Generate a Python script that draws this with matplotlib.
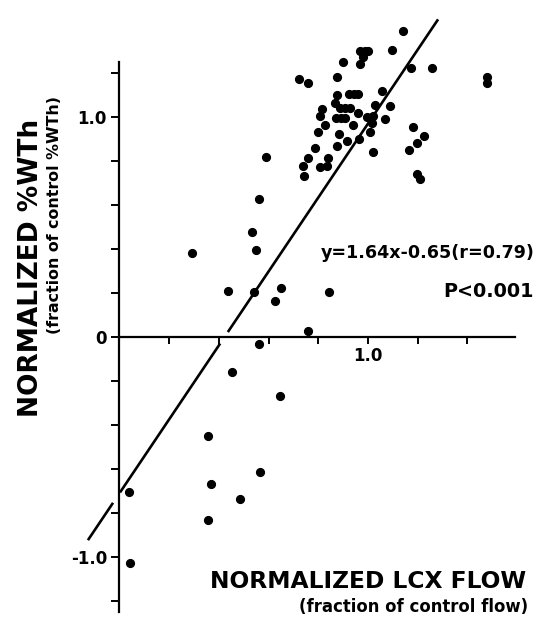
import numpy as np
import matplotlib
matplotlib.use("Agg")
import matplotlib.pyplot as plt
from matplotlib.ticker import FuncFormatter

plt.rcParams['font.family'] = ['DejaVu Sans']

# ---- data (normalized LCX flow, normalized %WTh) ----
flow = [1.142, 0.968, 0.988, 1.000, 0.979, 0.968, 0.898, 1.097, 1.173, 1.259,
        1.478, 1.478, 0.724, 0.759, 0.876, 0.876, 0.925, 0.944, 0.961, 1.058,
        0.867, 0.887, 0.907, 0.928, 0.959, 1.029, 1.089, 0.815, 0.808, 0.871,
        0.890, 0.907, 0.996, 1.020, 1.016, 1.070, 0.828, 0.938, 0.798, 0.885,
        1.008, 1.181, 1.227, 0.965, 0.915, 0.876, 0.786, 1.198, 1.165, 1.019,
        0.757, 0.740, 0.838, 0.807, 0.834, 0.744, 1.196, 1.209,
        0.590, 0.561, 0.533, 0.549, 0.292, 0.437, 0.541, 0.650, 0.626, 0.843,
        0.759, 0.561, 0.453, 0.646, 0.356, 0.368, 0.356, 0.485, 0.565, 0.038,
        0.042]
wth = [1.392, 1.301, 1.301, 1.301, 1.271, 1.240, 1.251, 1.303, 1.221, 1.224,
       1.180, 1.153, 1.174, 1.156, 1.183, 1.100, 1.105, 1.105, 1.105, 1.118,
       1.062, 1.040, 1.040, 1.040, 1.020, 1.055, 1.050, 1.035, 1.005, 0.994,
       0.994, 0.994, 1.000, 1.005, 0.973, 0.992, 0.964, 0.964, 0.932, 0.924,
       0.933, 0.953, 0.914, 0.901, 0.892, 0.868, 0.859, 0.880, 0.849, 0.841,
       0.815, 0.779, 0.815, 0.773, 0.777, 0.733, 0.741, 0.717,
       0.818, 0.627, 0.477, 0.395, 0.382, 0.209, 0.205, 0.223, 0.164, 0.205,
       0.027, -0.032, -0.159, -0.268, -0.450, -0.668, -0.832, -0.736, -0.614, -0.705,
       -1.027]

# regression line as drawn (with breaks where it crosses the axes)
line_slope = 1.68
line_intercept = -0.71
line_segments = [(-0.127, -0.026), (0.002, 0.405), (0.436, 1.282)]

equation_text = "y=1.64x-0.65(r=0.79)"
p_text = "P<0.001"
xlabel = "NORMALIZED LCX FLOW"
xlabel2 = "(fraction of control flow)"
ylabel = "NORMALIZED %WTh"
ylabel2 = "(fraction of control %WTh)"

y_ticks = np.round(np.arange(-1.2, 1.21, 0.2), 2)
x_ticks = np.round(np.arange(0.2, 1.41, 0.2), 2)
y_labeled = {1.0: "1.0", 0.0: "0", -1.0: "-1.0"}
x_labeled = {1.0: "1.0"}

# ---- figure ----
W, H = 545, 619
fig = plt.figure(figsize=(W / 100, H / 100), dpi=100)
ax = fig.add_axes([0, 0, 1, 1])
ax.set_facecolor("white")

x0_px, xs = 119.5, 248.5
y0_px, ys = 337.0, 220.0
ax.set_xlim(-x0_px / xs, (W - x0_px) / xs)
ax.set_ylim((y0_px - H) / ys, y0_px / ys)

for s in ["top", "right"]:
    ax.spines[s].set_visible(False)
ax.spines["left"].set_position(("data", 0))
ax.spines["bottom"].set_position(("data", 0))
ax.spines["left"].set_bounds(-1.25, 1.25)
ax.spines["bottom"].set_bounds(0, 1.59)
for s in ["left", "bottom"]:
    ax.spines[s].set_linewidth(1.6)

ax.set_yticks(y_ticks)
ax.set_xticks(x_ticks)
ax.yaxis.set_major_formatter(FuncFormatter(lambda v, p: y_labeled.get(round(v, 2), "")))
ax.xaxis.set_major_formatter(FuncFormatter(lambda v, p: x_labeled.get(round(v, 2), "")))
ax.tick_params(axis="y", direction="out", length=6, width=1.4, pad=3,
               labelsize=12)
ax.tick_params(axis="x", direction="out", length=5, width=1.4, pad=2,
               labelsize=12)
for lab in ax.get_xticklabels() + ax.get_yticklabels():
    lab.set_fontweight("bold")

ax.plot(flow, wth, "o", color="black", markersize=5.6, zorder=3)

for a, b in line_segments:
    xx = np.array([a, b])
    ax.plot(xx, line_slope * xx + line_intercept, color="black", lw=1.9,
            solid_capstyle="butt", zorder=2)

ax.text(0.81, 0.382, equation_text, fontsize=12.6, fontweight="bold",
        ha="left", va="center")
ax.text(1.665, 0.205, p_text, fontsize=13.8, fontweight="bold",
        ha="right", va="center")

fig.text(210 / W, 1 - 582 / H, xlabel, fontsize=16.8, fontweight="bold",
         ha="left", va="center")
fig.text(528 / W, 1 - 607 / H, xlabel2, fontsize=11.9, fontweight="bold",
         ha="right", va="center")
fig.text(31 / W, 1 - 268 / H, ylabel, fontsize=19, fontweight="bold",
         rotation=90, ha="center", va="center")
fig.text(55 / W, 1 - 215 / H, ylabel2, fontsize=11.4, fontweight="bold",
         rotation=90, ha="center", va="center")

fig.savefig("out.png", dpi=100, facecolor="white")
